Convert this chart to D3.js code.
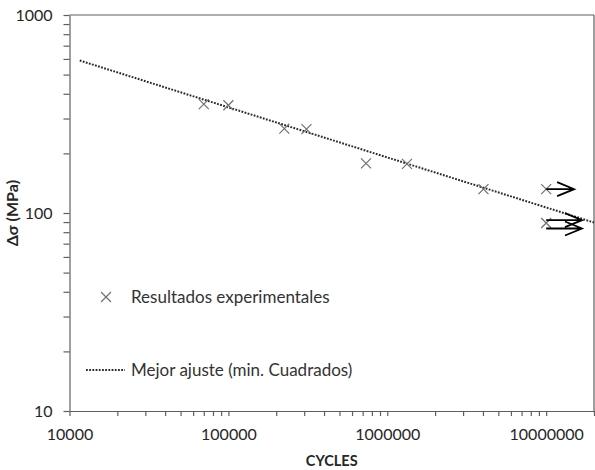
<!DOCTYPE html>
<html>
<head>
<meta charset="utf-8">
<script src="https://cdn.jsdelivr.net/npm/d3@7"></script>
<style>
  html, body { margin: 0; padding: 0; background: #fff; }
  svg { display: block; font-family: Lato, "Open Sans", sans-serif; }
</style>
</head>
<body>
<svg id="chart" width="595" height="470"></svg>
<script>
// ---- data ----
const cyclesExp = [70000, 100000, 225000, 310000, 735000, 1330000, 4030000, 10000000, 10000000];
const stressExp = [355, 350, 267, 265, 178, 177, 132, 132, 89];

const fitCycles = [11600, 20000000];
const fitStress = [589, 89.5];

const arrowFrom = [10000000, 10000000, 10000000];
const arrowTo = [15000000, 16800000, 16800000];
const arrowStress = [132, 92, 83.5];

const xTickDecades = [10000, 100000, 1000000, 10000000];
const yTickDecades = [10, 100, 1000];

const legendLabels = ["Resultados experimentales", "Mejor ajuste (min. Cuadrados)"];
const xTitle = "CYCLES";
const yTitle = "Δσ (MPa)";

// ---- layout ----
const L = 69.5, R = 594, T = 15, B = 411;
const svg = d3.select("#chart");
const x = d3.scaleLog().domain([1e4, 2e7]).range([L, R]);
const y = d3.scaleLog().domain([10, 1000]).range([B, T]);

const axisColor = "#5f5f5f";
const textColor = "#262626";

// minor tick values
const xTicks = [];
for (let e = 4; e <= 7; e++) for (let m = 1; m <= 9; m++) { const v = m * Math.pow(10, e); if (v <= 2e7) xTicks.push(v); }
const yTicks = [];
for (let e = 1; e <= 2; e++) for (let m = 1; m <= 9; m++) yTicks.push(m * Math.pow(10, e));
yTicks.push(1000);

// frame top & right
svg.append("line").attr("x1", L).attr("x2", R).attr("y1", T).attr("y2", T).attr("stroke", axisColor).attr("stroke-width", 1.2);
svg.append("line").attr("x1", R).attr("x2", R).attr("y1", T).attr("y2", B).attr("stroke", axisColor).attr("stroke-width", 1.2);

// x axis
const xa = svg.append("g").attr("transform", `translate(0,${B})`)
  .call(d3.axisBottom(x).tickValues(xTicks).tickSizeInner(5).tickSizeOuter(0).tickPadding(13)
    .tickFormat(d => xTickDecades.includes(d) ? String(d) : ""));
xa.select(".domain").attr("stroke", axisColor).attr("stroke-width", 1.2);
xa.selectAll(".tick line").attr("stroke", axisColor).attr("stroke-width", 1.2);
xa.selectAll(".tick text").attr("fill", textColor).style("font-size", "16px").style("font-family", "Lato, sans-serif");

// y axis
const ya = svg.append("g").attr("transform", `translate(${L},0)`)
  .call(d3.axisLeft(y).tickValues(yTicks).tickSizeInner(6).tickSizeOuter(0).tickPadding(11)
    .tickFormat(d => yTickDecades.includes(d) ? String(d) : ""));
ya.select(".domain").attr("stroke", axisColor).attr("stroke-width", 1.2);
ya.selectAll(".tick line").attr("stroke", axisColor).attr("stroke-width", 1.2);
ya.selectAll(".tick text").attr("fill", textColor).style("font-size", "16px").style("font-family", "Lato, sans-serif");

// axis titles
svg.append("text").attr("x", (L + R) / 2).attr("y", 466).attr("text-anchor", "middle")
  .attr("font-weight", "bold").attr("font-size", 14.5).attr("fill", textColor).text(xTitle);
svg.append("text").attr("transform", `translate(18,${(T + B) / 2}) rotate(-90)`).attr("text-anchor", "middle")
  .attr("font-weight", "bold").attr("font-size", 16).attr("fill", textColor).text(yTitle);

// fit line
const line = d3.line().x(d => x(d[0])).y(d => y(d[1]));
svg.append("path").datum(fitCycles.map((c, i) => [c, fitStress[i]]))
  .attr("d", line).attr("fill", "none").attr("stroke", "#2a2a2a").attr("stroke-width", 2)
  .attr("stroke-dasharray", "1.8,1.4");

// markers
const ms = 5;
function xMark(g, cx, cy) {
  g.append("path").attr("d", `M${cx - ms},${cy - ms}L${cx + ms},${cy + ms}M${cx - ms},${cy + ms}L${cx + ms},${cy - ms}`)
    .attr("stroke", "#707070").attr("stroke-width", 1.2).attr("fill", "none");
}
const pts = svg.append("g");
cyclesExp.forEach((c, i) => xMark(pts, x(c), y(stressExp[i])));

// run-out arrows
const ar = svg.append("g").attr("stroke", "#000").attr("stroke-width", 1.8).attr("fill", "none");
arrowFrom.forEach((c, i) => {
  const x0 = x(c), x1 = x(arrowTo[i]), yy = y(arrowStress[i]);
  ar.append("path").attr("d", `M${x0},${yy}L${x1},${yy}M${x1 - 17},${yy - 7}L${x1},${yy}L${x1 - 17},${yy + 7}`);
});

// legend
const lg = svg.append("g");
xMark(lg, 106, 297);
lg.append("text").attr("x", 131).attr("y", 297).attr("dy", "0.35em").attr("font-size", 17).attr("fill", "#333").text(legendLabels[0]);
lg.append("line").attr("x1", 86).attr("x2", 125).attr("y1", 370).attr("y2", 370)
  .attr("stroke", "#2a2a2a").attr("stroke-width", 2).attr("stroke-dasharray", "1.8,1.4");
lg.append("text").attr("x", 131).attr("y", 370).attr("dy", "0.35em").attr("font-size", 17).attr("fill", "#333").text(legendLabels[1]);
</script>
</body>
</html>
